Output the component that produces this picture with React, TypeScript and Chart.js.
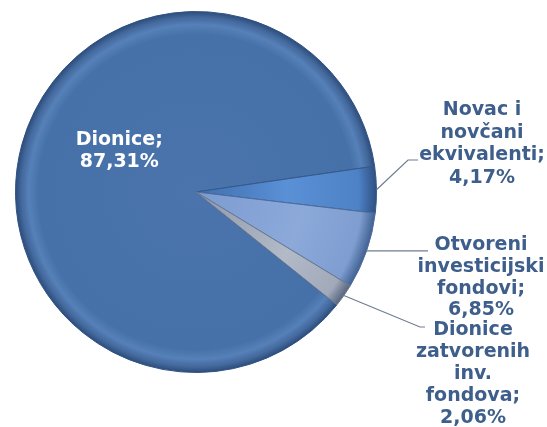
import React, { useEffect, useRef } from "react";
import { Chart, registerables } from "chart.js";

Chart.register(...registerables);

const categories = [
  "Dionice",
  "Novac i novčani ekvivalenti",
  "Otvoreni investicijski fondovi",
  "Dionice zatvorenih inv. fondova",
];
const values = [87.31, 4.17, 6.85, 2.06];
const labelLines = [
  ["Dionice;", "87,31%"],
  ["Novac i", "novčani", "ekvivalenti;", "4,17%"],
  ["Otvoreni", "investicijski", "fondovi;", "6,85%"],
  ["Dionice", "zatvorenih", "inv.", "fondova;", "2,06%"],
];
const baseColors = ["#4670A8", "#5287CC", "#86A4D6", "#A3ACBB"];

function sliceFill(ctx: any) {
  const chart = ctx.chart;
  const area = chart.chartArea;
  const i = ctx.dataIndex;
  if (!area) return baseColors[i];
  const cx = (area.left + area.right) / 2;
  const cy = (area.top + area.bottom) / 2;
  const r = Math.min(area.right - area.left, area.bottom - area.top) / 2;
  const g = chart.ctx.createRadialGradient(cx, cy, 0, cx, cy, r);
  if (i === 0) {
    g.addColorStop(0, "#4A74AB");
    g.addColorStop(0.87, "#4670A8");
    g.addColorStop(0.925, "#5580B8");
    g.addColorStop(0.965, "#44699D");
    g.addColorStop(1, "#2A4A78");
  } else if (i === 1) {
    g.addColorStop(0, "#3F6EAD");
    g.addColorStop(0.5, "#5A90D6");
    g.addColorStop(0.9, "#4E82C6");
    g.addColorStop(1, "#2D4F80");
  } else if (i === 2) {
    g.addColorStop(0, "#7C9BD0");
    g.addColorStop(0.6, "#8CA9DA");
    g.addColorStop(0.92, "#7F9DD0");
    g.addColorStop(1, "#3E5F8F");
  } else {
    g.addColorStop(0, "#8F99AA");
    g.addColorStop(0.6, "#B2BAC8");
    g.addColorStop(0.92, "#A2AABA");
    g.addColorStop(1, "#55627A");
  }
  return g;
}

const labelPlugin = {
  id: "pieLabels",
  afterDraw(chart: any) {
    const ctx = chart.ctx;
    const meta = chart.getDatasetMeta(0);
    const arcs = meta.data;
    if (!arcs.length) return;
    const a0 = arcs[0];
    const cx = a0.x;
    const cy = a0.y;
    const R = a0.outerRadius;
    ctx.save();
    ctx.font = "bold 19px 'DejaVu Sans', Verdana, sans-serif";
    ctx.textAlign = "center";
    ctx.textBaseline = "middle";
    // Inner label for the big slice
    ctx.fillStyle = "#FFFFFF";
    labelLines[0].forEach((t, k) => {
      ctx.fillText(t, cx - 0.425 * R, cy - 0.285 * R + k * 21.5);
    });
    const outside = [
      { idx: 1, tx: 482, ty: 110, ex: 408, ey: 160, hx: 418, lh: 22.7 },
      { idx: 2, tx: 481, ty: 245, ex: 428, ey: null, hx: 428, lh: 21.8 },
      { idx: 3, tx: 473, ty: 330, ex: 420, ey: 327, hx: 425, lh: 22 },
    ];
    ctx.strokeStyle = "#6E7C92";
    ctx.lineWidth = 1.2;
    outside.forEach((o) => {
      const arc = arcs[o.idx];
      const mid = (arc.startAngle + arc.endAngle) / 2;
      const sx = cx + Math.cos(mid) * R;
      const sy = cy + Math.sin(mid) * R;
      ctx.beginPath();
      ctx.moveTo(sx, sy);
      if (o.ey === null) {
        ctx.lineTo(o.hx, sy);
      } else {
        ctx.lineTo(o.ex, o.ey);
        ctx.lineTo(o.hx, o.ey);
      }
      ctx.stroke();
      ctx.fillStyle = "#3E5E8B";
      labelLines[o.idx].forEach((t, k) => {
        ctx.fillText(t, o.tx, o.ty + k * o.lh);
      });
    });
    ctx.restore();
  },
};

export default function App() {
  const ref = useRef<HTMLCanvasElement | null>(null);
  useEffect(() => {
    if (!ref.current) return;
    const chart = new Chart(ref.current, {
      type: "pie",
      data: {
        labels: categories,
        datasets: [
          {
            data: values,
            backgroundColor: sliceFill as any,
            borderColor: ["#2F5283", "#35598C", "#4D6C9C", "#6B7890"],
            borderWidth: 1,
          },
        ],
      },
      options: {
        responsive: false,
        animation: false,
        rotation: 128.7,
        layout: { padding: { top: 11, bottom: 54, left: 15, right: 170 } },
        plugins: {
          legend: { display: false },
          tooltip: { enabled: false },
          title: { display: false },
        },
      },
      plugins: [labelPlugin],
    });
    return () => chart.destroy();
  }, []);
  return (
    <div style={{ position: "absolute", left: 0, top: 0, width: 547, height: 427, background: "#fff" }}>
      <canvas ref={ref} width={547} height={427} style={{ display: "block" }} />
    </div>
  );
}
